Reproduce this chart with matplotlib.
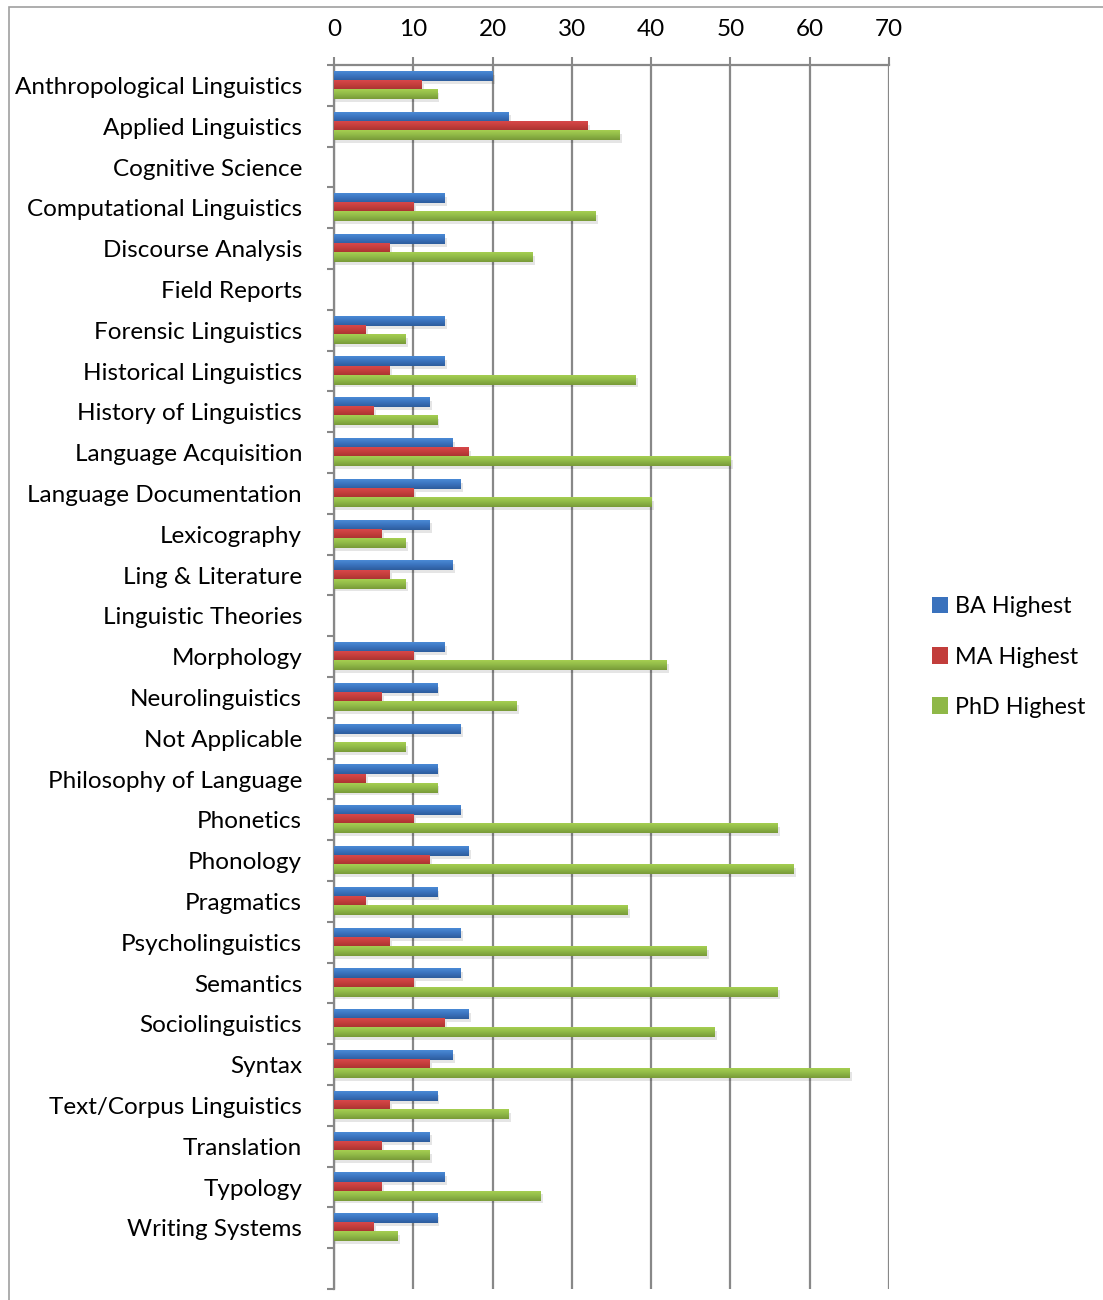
import numpy as np
import matplotlib
matplotlib.use('Agg')
import matplotlib.pyplot as plt
from matplotlib.colors import LinearSegmentedColormap
from matplotlib.patches import Patch, Rectangle

categories = [
    "Anthropological Linguistics", "Applied Linguistics", "Cognitive Science",
    "Computational Linguistics", "Discourse Analysis", "Field Reports",
    "Forensic Linguistics", "Historical Linguistics", "History of Linguistics",
    "Language Acquisition", "Language Documentation", "Lexicography",
    "Ling & Literature", "Linguistic Theories", "Morphology", "Neurolinguistics",
    "Not Applicable", "Philosophy of Language", "Phonetics", "Phonology",
    "Pragmatics", "Psycholinguistics", "Semantics", "Sociolinguistics",
    "Syntax", "Text/Corpus Linguistics", "Translation", "Typology",
    "Writing Systems", "",
]
ba_highest = [20, 22, 0, 14, 14, 0, 14, 14, 12, 15, 16, 12, 15, 0, 14, 13, 16,
              13, 16, 17, 13, 16, 16, 17, 15, 13, 12, 14, 13, 0]
ma_highest = [11, 32, 0, 10, 7, 0, 4, 7, 5, 17, 10, 6, 7, 0, 10, 6, 0,
              4, 10, 12, 4, 7, 10, 14, 12, 7, 6, 6, 5, 0]
phd_highest = [13, 36, 0, 33, 25, 0, 9, 38, 13, 50, 40, 9, 9, 0, 42, 23, 9,
               13, 56, 58, 37, 47, 56, 48, 65, 22, 12, 26, 8, 0]

series = [
    ("BA Highest", ba_highest, "#4a8ad6", "#2d5c9c", "#3a72bd"),
    ("MA Highest", ma_highest, "#d8484a", "#a63230", "#c23d3b"),
    ("PhD Highest", phd_highest, "#a6cf52", "#789a38", "#8fb847"),
]

plt.rcParams['font.family'] = ['Lato', 'DejaVu Sans']
FS = 17.5

fig = plt.figure(figsize=(11.03, 13.0), dpi=100)
ax = fig.add_axes([334 / 1103, 11 / 1300, 555 / 1103, 1224 / 1300])

# chart-area border (Excel frame, partly cropped)
fig.patches.append(Rectangle((9 / 1103, -0.1), 1.2, 1.1 - 7 / 1300,
                             transform=fig.transFigure, fill=False,
                             edgecolor='#a0a0a0', lw=1.2, zorder=0))

y = np.arange(len(categories))
h = 1 / 4.5
for i, (name, vals, c_top, c_bot, c_mid) in enumerate(series):
    cmap = LinearSegmentedColormap.from_list(name, [c_top, c_mid, c_bot])
    grad = np.linspace(0, 1, 64).reshape(-1, 1)
    off = (i - 1) * h
    for yy, v in zip(y, vals):
        if v <= 0:
            continue
        top = yy + off - h / 2
        bot = yy + off + h / 2
        # soft shadow under the bar
        ax.add_patch(Rectangle((0.1, top + 0.07), v + 0.2, h, color='#000000',
                               alpha=0.10, lw=0, zorder=2))
        ax.imshow(grad, cmap=cmap, extent=(0, v, bot, top), aspect='auto',
                  origin='upper', interpolation='bilinear', zorder=3)

ax.set_xlim(0, 70)
ax.set_ylim(len(categories) - 0.5, -0.5)

ax.xaxis.tick_top()
ax.set_xticks(np.arange(0, 71, 10))
ax.tick_params(axis='x', length=6, width=1.5, color='#888888', pad=12,
               labelsize=FS, labelcolor='#000000')
ax.grid(axis='x', color='#888888', lw=1.6, zorder=1)
ax.set_axisbelow(True)

ax.set_yticks(y)
ax.set_yticklabels(categories)
ax.set_yticks(np.arange(-0.5, len(categories), 1), minor=True)
ax.tick_params(axis='y', which='major', length=0, pad=23, labelsize=FS)
ax.tick_params(axis='y', which='minor', length=5, width=1.5, color='#888888')

for s in ['right', 'bottom']:
    ax.spines[s].set_visible(False)
for s in ['left', 'top']:
    ax.spines[s].set_color('#888888')
    ax.spines[s].set_linewidth(1.6)

handles = [Patch(facecolor=s[4], edgecolor='none') for s in series]
fig.legend(handles, [s[0] for s in series], loc='center left',
           bbox_to_anchor=(911 / 1103, 1 - 657 / 1300), frameon=False,
           fontsize=16.8, handlelength=0.7, handleheight=0.7,
           handletextpad=0.3, labelspacing=1.25)

fig.savefig('out.png', dpi=100)
